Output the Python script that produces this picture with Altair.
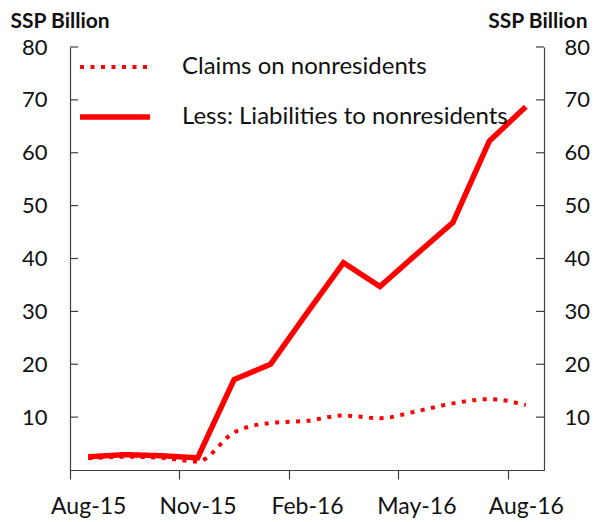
import altair as alt
import pandas as pd

months = ["Aug-15", "Sep-15", "Oct-15", "Nov-15", "Dec-15", "Jan-16", "Feb-16",
          "Mar-16", "Apr-16", "May-16", "Jun-16", "Jul-16", "Aug-16"]
claims = [2.2, 2.5, 2.3, 1.6, 7.1, 8.9, 9.3, 10.3, 9.8, 11.1, 12.6, 13.4, 12.3]
liabilities = [2.5, 2.9, 2.7, 2.3, 17.1, 20.0, 29.7, 39.2, 34.7, 40.8, 46.8, 62.2, 68.7]
series_names = ["Claims on nonresidents", "Less: Liabilities to nonresidents"]
x_tick_labels = ["Aug-15", "Nov-15", "Feb-16", "May-16", "Aug-16"]
y_values = [0, 10, 20, 30, 40, 50, 60, 70, 80]
y_ticks = [10, 20, 30, 40, 50, 60, 70, 80]

rows = []
for m, c, l in zip(months, claims, liabilities):
    rows.append({"month": m, "series": series_names[0], "value": c})
    rows.append({"month": m, "series": series_names[1], "value": l})
df = pd.DataFrame(rows)
ticks_df = pd.DataFrame({"v": y_ticks})

W, H = 474, 423
step = W / len(months)
FONT = "Lato"
AX = "#404040"
TXT = "#111111"

x_enc = alt.X(
    "month:O", sort=months,
    scale=alt.Scale(type="point", padding=0.5, domain=months),
    axis=alt.Axis(values=x_tick_labels, title=None, tickOffset=-step / 2,
                  labelOffset=step / 2, labelAngle=0, tickSize=9, labelPadding=16,
                  labelFontSize=23, labelFont=FONT, labelColor=TXT,
                  domainColor=AX, tickColor=AX, domainWidth=1.2, tickWidth=1.2, grid=False),
)
y_scale = alt.Scale(domain=[0, 80], nice=False, zero=True)

def y_axis(orient, pad, tx, talign):
    return alt.Axis(orient=orient, values=y_values,
                    labelExpr="datum.value == 0 ? '' : datum.label",
                    ticks=False, tickSize=0, labelPadding=pad,
                    labelFontSize=22, labelFont=FONT, labelColor=TXT,
                    domainColor=AX, domainWidth=1.2, grid=False,
                    title="SSP Billion", titleAngle=0, titleX=tx, titleY=-26,
                    titleAlign=talign, titleBaseline="middle", titleFont=FONT,
                    titleFontSize=21, titleFontWeight="bold", titleColor=TXT)

leg = alt.Legend(title=None, orient="none", legendX=7, legendY=-17,
                 symbolType="stroke", symbolSize=4900, labelFont=FONT,
                 labelFontSize=24, labelColor=TXT, labelOffset=29,
                 rowPadding=-23, padding=0, labelLimit=0)

color = alt.Color("series:N", scale=alt.Scale(domain=series_names, range=["#ff0000", "#ff0000"]), legend=leg)
dash = alt.StrokeDash("series:N", scale=alt.Scale(domain=series_names, range=[[4, 6.5], [1, 0]]), legend=leg)
sw = alt.StrokeWidth("series:N", scale=alt.Scale(domain=series_names, range=[4, 5.5]), legend=leg)

base = alt.Chart(df)
claims_layer = base.transform_filter(alt.datum.series == series_names[0]).mark_line(
    interpolate="monotone").encode(
    x=x_enc, y=alt.Y("value:Q", scale=y_scale, axis=y_axis("left", 23, -60, "left")),
    color=color, strokeDash=dash, strokeWidth=sw)
liab_layer = base.transform_filter(alt.datum.series == series_names[1]).mark_line(
    interpolate="linear").encode(
    x=x_enc, y=alt.Y("value:Q", scale=y_scale, axis=y_axis("right", 20, 43, "right")),
    color=color, strokeDash=dash, strokeWidth=sw)

left_ticks = alt.Chart(ticks_df).mark_rule(color=AX, strokeWidth=1.2).encode(
    y=alt.Y("v:Q", scale=y_scale, axis=None), x=alt.value(0), x2=alt.value(8))
right_ticks = alt.Chart(ticks_df).mark_rule(color=AX, strokeWidth=1.2).encode(
    y=alt.Y("v:Q", scale=y_scale, axis=None), x=alt.value(W - 8), x2=alt.value(W))

chart = alt.layer(claims_layer, liab_layer, left_ticks, right_ticks).resolve_axis(
    y="independent").properties(
    width=W, height=H,
    padding={"left": 62, "top": 39, "right": 46, "bottom": 50},
    autosize=alt.AutoSizeParams(type="none"),
).configure_view(stroke=None)

chart.save("out.html", embed_options={"renderer": "svg", "actions": False})
